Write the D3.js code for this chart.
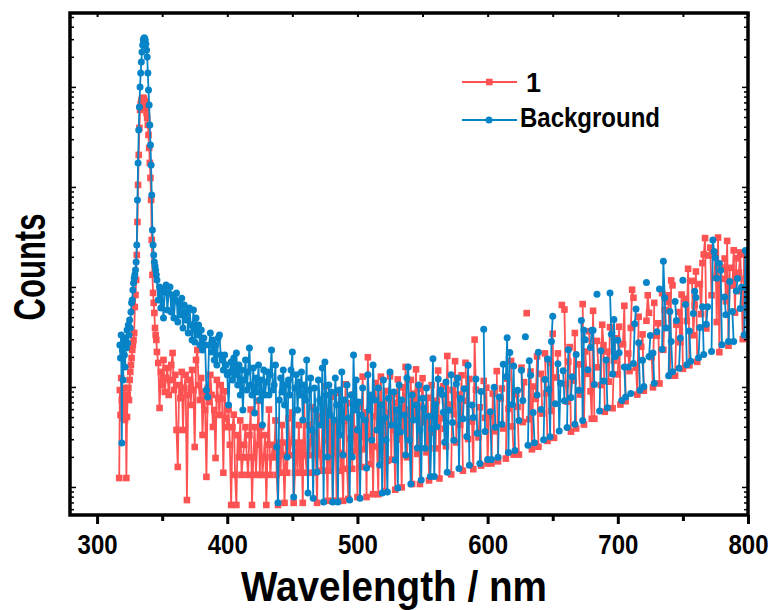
<!DOCTYPE html>
<html>
<head>
<meta charset="utf-8">
<script src="https://cdn.jsdelivr.net/npm/d3@7"></script>
<style>
  body { margin: 0; background: #fff; }
  svg text { font-family: "Liberation Sans", Arial, sans-serif; font-weight: bold; fill: #000; }
</style>
</head>
<body>
<svg></svg>
<script>
// sampling grid: 0.5 nm through the peak, 1 nm afterwards
const fineStart = 316, fineStep = 0.5;
const coarseStart = 346;

// sample "1" (red), counts, null = no point
const sampleFine = [
  null, null, 1.86, 14.1, 7.94, 18.6, 11.2, 7.41, 12.6, 8.91,
  14.8, 7.08, 12.0, 1.86, 7.59, 12.6, 14.8, 11.2, 17.8, 21.4,
  25.1, 29.5, 35.5, 39.8, 44.7, 52.5, 95.5, 126, 178, 316,
  676, 1585, 3162, 5888, 8913, 10230, 10960, 11480, 11750, 11750,
  11480, 10960, 10230, 9333, 8318, 7413, 6310, 5012, 3715, 2630,
  1862, 1122, 447, 200, 132, 105, 83.2, 58.9, 50.1, 44.7
];
const sampleCoarse = [
  33.9, 26.3, 9.33, 21.4, 15.8, 28.2, 13.5, 18.6, 23.4, 12.6,
  17.8, 25.1, 33.1, 14.1, 20.0, 5.62, 2.40, 15.8, 11.7, 21.4,
  5.62, 14.8, 20.0, 1.12, 12.6, 17.8, 10.0, 22.4, 14.1, 3.80,
  28.2, 35.5, 15.8, 11.2, 18.6, 5.01, 13.5, 8.91, 1.91, 14.8,
  10.7, 20.0, 12.6, 6.03, 8.91, 2.95, 17.8, 11.7, 7.94, 15.8,
  11.6, 2.1, 13.7, 7.35, 6, 9, 4, 1, 6, 8,
  2, 1, 5, 3, 7, 2, 3, 4, 6, 3,
  2, 5, 9, 1, 3, 6, 2, 4, 11, 2,
  6, 2, 3, 5, 1, 4, 9, 2, 3, 4,
  3, 7, 2, 1, 4.2, 2.1, 6.3, 3.15, 1.05, 4.2,
  2.1, 7.35, 3.15, 4.2, 8.4, 1.05, 2.1, 4.2, 2.1, 6.3,
  2.1, 4.2, 1.05, 12.6, 3.15, 2.1, 6.3, 3.15, 4.2, 9.45,
  2.1, 5.25, 3.15, 1.05, 7.7, 3.3, 2.2, 6.6, 2.2, 15.4,
  4.4, 1.1, 8.8, 2.2, 12.1, 1.1, 3.3, 6.6, 1.1, 5.5,
  13.2, 2.2, 3.3, 1.1, 6.9, 16.1, 2.3, 1.15, 4.6, 10.4,
  2.3, 12.7, 3.45, 5.75, 1.2, 9.6, 4.8, 2.4, 19.2, 3.6,
  8.4, 1.2, 30, 4.8, 2.56, 11.5, 1.28, 7.68, 16.6, 3.84,
  1.28, 10.2, 19.2, 3.84, 6.9, 1.38, 13.8, 2.76, 8.28, 19.3,
  2.84, 12.8, 5.68, 1.42, 10.5, 18, 4.5, 7.5, 1.5, 15,
  6, 24, 3, 9, 4.86, 17.8, 1.62, 13, 8.1, 22.7,
  3.24, 14.6, 1.62, 9.72, 18.5,
  6.72, null, 3.36, 11.8, 1.76, 5.28, 15.8, null, 8.8, 3.68,
  11.0, 22.1, 1.84, 7.36, null, 15.4, 5.79, 3.86, 30.9, 10.1,
  null, 2.02, 14.1, 8.08, 27.4, 4.22, null, 12.7, 6.33, 19.8,
  2.2, null, 26.4, 11.0, 4.56, 18.2, null, 6.84, 2.28, 45.0,
  14.2, null, 4.74, 9.48, 2.48, null, 17.4, 7.44, 14.9, 2.6,
  7.8, null, 2.6, 13.0, 5.46, null, 21.8, 2.73, null, 11.6,
  14.6, 5.82, null, 2.91, 18.3, 9.15, null, 27.5, 6.1, 3.19,
  null, 12.8, 9.57, 3.19, null, 23.6, 6.74, 16.9, null, 82.8,
  null, 7.2, 21.6, 3.6, 15.3, null, 11.5, 30.6, 3.82, null,
  20.5, 8.2, null, 32.8, 13.1, 4.37, null, 26.2, 8.74, 51.6,
  4.69, null, 18.8, 32.8, null, null, 100, null, 90.0, 16.2,
  10.8, 27.1, 37.9, 5.41, null, 17.5, 52.4, 5.82, null, 25.5,
  12.7, null, 102, 6.37, 34.2, 20.5, null, 54.6, 13.7, 7.28,
  87.4, 7.28, null, 43.7, 23.8, null, 15.8, 63.4, 39.6, 8.55,
  null, 34.2, 17.1, 59.9, null, 9.28, 27.8, 46.4, null, 20.2,
  60.6, 10.1, null, 40.4, 98.1, 10.9, null, 32.7, 21.8, 59.0,
  142, 118, null, 23.6, 12.7, 76.2, null, 38.1, 50.8, 13.9,
  null, 69.5, 125, 83.4, null, 30.0, 15.0, 105, null, 49.2,
  65.6, 16.4, null, 131, 35.6, 89.0, null, 107, 125, 19.6,
  176, 157, null, 19.6, 63.6, null, 84.8, 42.4, 127, 23.0,
  null, 115, 69.0, 230, 24.9, null, 174, 49.8, 99.6, 216,
  27.0, null, 162, 81.0, 262, 320, 466, 58.2, null, 312,
  374, 125, null, 187, 303, 67.4, 472, 33.7, 236, 182,
  null, 291, 109, 437, 39.1, 235, null, 156, 352, 83.8,
  293, null, 210, 335, 137, 45.5, 319, 182, 228, 91.0
];

// background (blue)
const bgFine = [
  null, null, null, 39.8, 29.5, 50.1, 4.17, 35.5, 17.8, 44.7,
  31.6, 24.0, 46.8, 37.2, 56.2, 41.7, 63.1, 50.1, 70.8, 58.9,
  85.1, 105, 112, 141, 166, 186, 200, 224, 269, 398,
  1122, 2630, 5623, 9550, 15140, 20890, 26920, 33880, 39810, 44670,
  46770, 46770, 44670, 40740, 35480, 30200, 20890, 14130, 10000, 6310,
  3981, 2512, 1259, 562, 398, 316, 269, 245, 224, 200
];
const bgCoarse = [
  178, 112, 151, 93.3, 141, 74.1, 135, 158, 89.1, 132,
  151, 85.1, 126, 74.1, 112, 132, 67.6, 105, 79.4, 117,
  58.9, 100, 70.8, 85.1, 52.5, 93.3, 63.1, 44.7, 89.1, 42.7,
  74.1, 50.1, 63.1, 39.8, 56.2, 35.5, 46.8, 39.8, 14.1, 12.0,
  39.8, 52.5, 33.9, 44.7, 28.2, 39.8, 25.1, 46.8, 50.1, 31.6,
  28.2, 22.4, 31.6, 25.1, 20.0, 10.0, 21.4, 26.9, 17.8, 29.5,
  20.0, 33.1, 15.8, 25.1, 12.6, 22.4, 8.91, 17.8, 28.2, 14.1,
  21.4, 37.2, 15.8, 12.6, 23.4, 8.32, 18.6, 13.5, 25.1, 11.2,
  17.8, 6.31, 22.4, 12.6, 17.0, 21.4, 12.6, 20.0, 35.5, 14.1,
  15.8, 25.1, 3.80, 1.05, 11.2, 18.6, 13.5, 22.4, 10.0, 15.8,
  3.02, 17.8, 12.6, 22.4, 33.9, 1.20, 14.8, 20.0, 8.91, 17.0,
  12.6, 21.4, 7.08, 15.8, 11.2, 28.2, 1.32, 14.1, 18.6, 5.62,
  1.17, 14.8, 8.91, 2.14, 17.8, 11.2, 6.31, 23.4, 1.07, 26.9,
  12.6, 3.02, 15.8, 7.94, 13.5, 1.07, 7.08, 18.6, 10.0, 1.07,
  14.1, 5.01, 21.4, 3.16, 11.2, null, 15.8, 7.41, 1.12, 12.6,
  3.02, 31.6, 8.91, 17.8, 5.62, 10.7, 1.17, 7.94, 14.8, null,
  7.08, 2.34, 20.0, 8.91, 12.6, 4.47, 25.1, 11.2, null, 5.62,
  14.8, 2.51, 10.0, 1.32, 17.8, 7.41, 4.47, 1.35, 11.7, 21.4,
  6.31, null, 13.5, 2.82, 8.91, 1.48, 15.8, 5.37, 11.2, null,
  7.94, 3.16, 18.6, 24.0, 4.47, 1.62, 12.6, 7.08, null, 10.0,
  3.72, 15.8, 5.62, 1.78, 11.7,
  9.25, 3.7, 14.8, null, 7.72, 1.93, 5.79, 29.0, 1.93, 10.1,
  6.06, 18.2, null, 14.1, 12.7, 8.48, 4.24, 17.0, 2.12, 8.88,
  null, 20.0, 6.66, 4.44, null, 16.2, 18.6, 2.32, 11.6, null,
  7.26, 14.5, null, 4.84, 25.0, 2.5, null, 10.0, 7.5, null,
  18.2, 5.2, null, 2.6, 13.6, null, 57.1, 5.44, null, 2.85,
  null, 8.55, 2.85, null, 15.0, 6.0, null, 3.0, 12.0, null,
  6.4, 25.6, null, 19.2, 46.9, 3.35, 33.5, null, 10.1, 24.5,
  3.5, null, 14.0, 7.0, null, 22.2, 11.1, null, 48.1, null,
  3.95, 27.7, 19.8, null, 8.4, 4.2, null, 12.6, 33.6, null,
  9.0, null, 4.5, 18.0, null, 28.8, 14.4, 4.8, 43.2, 77.3,
  null, 10.3, null, 25.8, 5.5, 16.5, null, 22.0, 11.0, null,
  5.95, 35.7, null, 11.9, 19.2, null, 6.4, 32.0, null, 14.0,
  null, 70.0, 7.0, 56.0, 45.0, null, 22.5, null, 37.5, 56.0,
  56.0, 16.0, null, 128, null, 8.7, 34.8, null, 17.4, null,
  28.2, 9.4, null, 132, 51.0, 20.4, 71.4, 30.6, null, 44.4,
  33.3, null, 11.1, null, 24.0, 12.0, null, 24.0, null, 13.0,
  null, 26.0, 65.0, 91.0, null, 42.0, 14.0, null, 28.0, 15.3,
  null, 168, null, 30.6, 49.5, null, 33.0, 16.5, null, 54.0,
  null, 144, null, 36.0, 274, 118, 58.8, null, 19.6, 86.0,
  43.0, 21.5, null, 108, 69.9, null, 23.3, 46.6, null, 177,
  null, 101, 25.3, null, 54.8, 27.4, null, 82.2, 137, 119,
  null, 29.7, 59.4, null, 96.0, 32.0, null, 64.0, 96.0, null,
  null, 34.3, 446, 343, 296, 185, null, 259, 222, 40.0,
  null, 120, 80.0, null, 43.0, 172, null, 86.0, 43.0, null,
  138, 184, null, 92.0, 150, null, 50.0, 350, 50.0, null
];

const xMajor = [300, 400, 500, 600, 700, 800];
const xMinor = [350, 450, 550, 650, 750];
const seriesNames = ["1", "Background"];
const seriesColors = ["#ff5252", "#0784c7"];
const tickBase = 1.514;   // where the unlabeled decade ticks fall in these count units

const width = 774, height = 610;
const plot = { left: 70, right: 748, top: 13, bottom: 515 };

const svg = d3.select("svg").attr("width", width).attr("height", height);

const x = d3.scaleLinear().domain([279.2, 800]).range([plot.left, plot.right]);
const y = d3.scaleLog().domain([0.794, 83000]).range([plot.bottom, plot.top]);

function toPoints(fine, coarse) {
    const pts = fine.map((v, i) => [fineStart + i * fineStep, v]);
    return pts.concat(coarse.map((v, i) => [coarseStart + i, v]));
}
const series = [toPoints(sampleFine, sampleCoarse), toPoints(bgFine, bgCoarse)];

svg.append("defs").append("clipPath").attr("id", "clip")
    .append("rect")
    .attr("x", plot.left).attr("y", plot.top)
    .attr("width", plot.right - plot.left).attr("height", plot.bottom - plot.top);

const line = d3.line()
    .defined(d => d[1] != null)
    .x(d => x(d[0]))
    .y(d => y(d[1]));

const marks = svg.append("g").attr("clip-path", "url(#clip)");
series.forEach((pts, i) => {
    const g = marks.append("g");
    g.append("path")
        .datum(pts)
        .attr("fill", "none")
        .attr("stroke", seriesColors[i])
        .attr("stroke-width", 1.8)
        .attr("d", line);
    const valid = pts.filter(d => d[1] != null);
    if (i === 0) {
        g.selectAll("rect").data(valid).enter().append("rect")
            .attr("x", d => x(d[0]) - 3.3)
            .attr("y", d => y(d[1]) - 3.3)
            .attr("width", 6.6).attr("height", 6.6)
            .attr("fill", seriesColors[i]);
    } else {
        g.selectAll("circle").data(valid).enter().append("circle")
            .attr("cx", d => x(d[0]))
            .attr("cy", d => y(d[1]))
            .attr("r", 3.5)
            .attr("fill", seriesColors[i]);
    }
});

// axes
const xAxis = svg.append("g")
    .attr("transform", `translate(0,${plot.bottom})`)
    .call(d3.axisBottom(x).tickValues(xMajor).tickSize(9).tickFormat(d3.format("d")));
xAxis.select(".domain").remove();
xAxis.selectAll("line").attr("stroke", "#000").attr("stroke-width", 3);
xAxis.selectAll("text")
    .attr("y", 39).attr("dy", null)
    .attr("textLength", 40).attr("lengthAdjust", "spacingAndGlyphs")
    .style("font-size", "28px");

svg.append("g")
    .attr("transform", `translate(0,${plot.bottom})`)
    .call(d3.axisBottom(x).tickValues(xMinor).tickSize(6).tickFormat(""))
    .call(g => g.select(".domain").remove())
    .selectAll("line").attr("stroke", "#000").attr("stroke-width", 3);

// small inward ticks along the top edge
svg.append("g")
    .attr("transform", `translate(0,${plot.top})`)
    .call(d3.axisBottom(x).tickValues(xMajor.concat(xMinor)).tickSize(4).tickFormat(""))
    .call(g => g.select(".domain").remove())
    .selectAll("line").attr("stroke", "#000").attr("stroke-width", 2);

const yTicks = d3.range(-1, 5)
    .flatMap(e => d3.range(1, 10).map(k => k * tickBase * Math.pow(10, e)))
    .filter(v => v > y.domain()[0] && v < y.domain()[1]);
const isMajor = v => Math.abs(Math.log10(v / tickBase) - Math.round(Math.log10(v / tickBase))) < 1e-6;
[plot.left, plot.right].forEach((px, k) => {
    const axis = k === 0 ? d3.axisLeft(y) : d3.axisRight(y);
    svg.append("g")
        .attr("transform", `translate(${px},0)`)
        .call(axis.tickValues(yTicks).tickSize(0).tickFormat(""))
        .call(g => g.select(".domain").remove())
        .selectAll(".tick").append("line")
        .attr("x1", 0)
        .attr("x2", d => (k === 0 ? 1 : -1) * (isMajor(d) ? 6 : 4))
        .attr("stroke", "#000").attr("stroke-width", 1.5);
});

svg.append("rect")
    .attr("x", plot.left).attr("y", plot.top)
    .attr("width", plot.right - plot.left).attr("height", plot.bottom - plot.top)
    .attr("fill", "none").attr("stroke", "#000").attr("stroke-width", 3.5);

svg.append("text")
    .attr("x", 394).attr("y", 601)
    .attr("text-anchor", "middle")
    .attr("textLength", 306).attr("lengthAdjust", "spacingAndGlyphs")
    .style("font-size", "42px")
    .text("Wavelength / nm");

svg.append("text")
    .attr("transform", "translate(45,267) rotate(-90)")
    .attr("text-anchor", "middle")
    .attr("textLength", 107).attr("lengthAdjust", "spacingAndGlyphs")
    .style("font-size", "45px")
    .text("Counts");

// legend
const legendY = [82, 120];
const legendBase = [92, 127];
const legendLen = [null, 140];
seriesNames.forEach((name, i) => {
    const ly = legendY[i];
    const g = svg.append("g");
    g.append("line")
        .attr("x1", 462).attr("x2", 517).attr("y1", ly).attr("y2", ly)
        .attr("stroke", seriesColors[i]).attr("stroke-width", 1.8);
    if (i === 0) {
        g.append("rect").attr("x", 486).attr("y", ly - 3.3).attr("width", 6.6).attr("height", 6.6)
            .attr("fill", seriesColors[i]);
    } else {
        g.append("circle").attr("cx", 489).attr("cy", ly).attr("r", 3.5).attr("fill", seriesColors[i]);
    }
    const t = g.append("text")
        .attr("x", i === 0 ? 526 : 520).attr("y", legendBase[i])
        .style("font-size", "27px")
        .text(name);
    if (legendLen[i]) t.attr("textLength", legendLen[i]).attr("lengthAdjust", "spacingAndGlyphs");
});
</script>
</body>
</html>
